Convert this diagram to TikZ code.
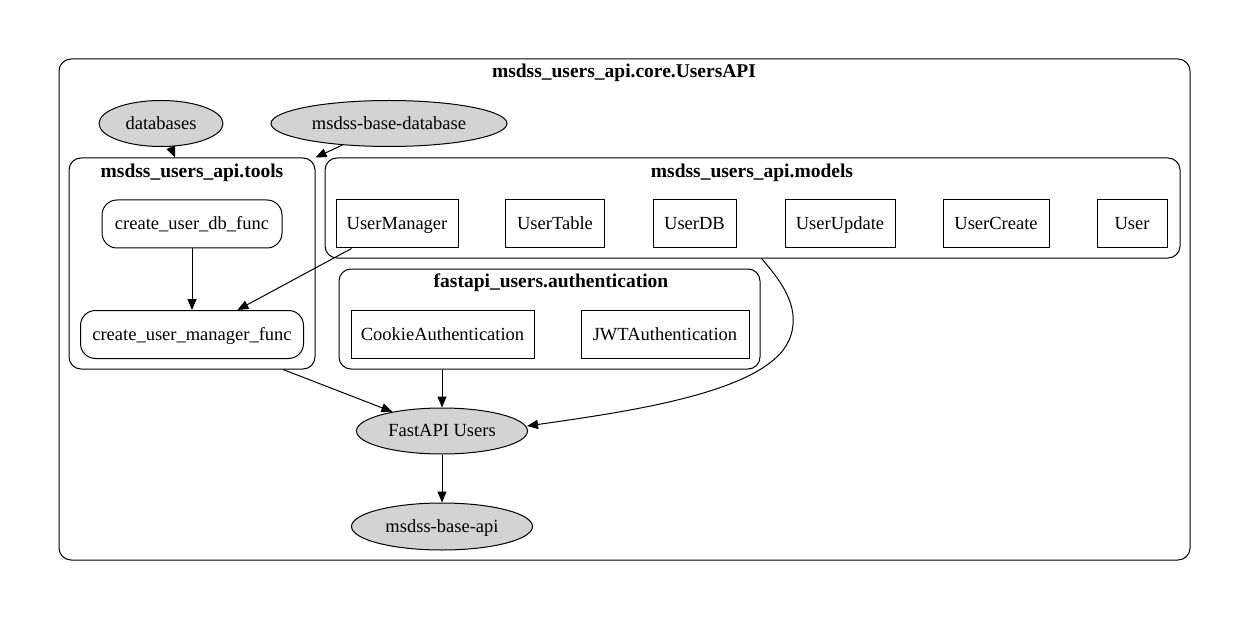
\documentclass[tikz,border=0pt]{standalone}
\usepackage{fontspec}
\setmainfont{Liberation Serif}
\usetikzlibrary{shapes.geometric,arrows.meta,calc}
\definecolor{nodegray}{HTML}{D3D3D3}
\begin{document}
\begin{tikzpicture}[x=1pt,y=-1pt,
  every node/.style={font=\rmfamily\fontsize{18.5}{20}\selectfont, inner sep=0pt,
    text height=14.5pt, text depth=3pt},
  line width=1pt,
  cluster/.style={draw, rounded corners=12pt},
  ctitle/.style={font=\rmfamily\fontsize{19.5}{21}\selectfont\bfseries},
  pkg/.style={draw, ellipse, fill=nodegray},
  func/.style={draw, rounded corners=15pt, minimum height=48},
  cls/.style={draw, minimum height=48},
  arr/.style={-{Triangle[length=11pt,width=9pt]}}
]
\useasboundingbox (0,0) rectangle (1249,620);

% clusters
\node[cluster, minimum width=1131, minimum height=501] (core) at (624.5,309.5) {};
\node[ctitle] (coretitle) at (624,72) {msdss\_users\_api.core.UsersAPI};

\node[cluster, minimum width=246, minimum height=211] (tools) at (192,263.5) {};
\node[ctitle] (toolstitle) at (192,172) {msdss\_users\_api.tools};

\node[cluster, minimum width=855, minimum height=100] (models) at (752.5,208) {};
\node[ctitle] (modelstitle) at (752,172) {msdss\_users\_api.models};

\node[cluster, minimum width=421, minimum height=100] (auth) at (549.5,319) {};
\node[ctitle] (authtitle) at (551,282) {fastapi\_users.authentication};

% external packages
\node[pkg, minimum width=124, minimum height=46] (databases) at (161,123.5) {databases};
\node[pkg, minimum width=236, minimum height=46] (basedb) at (389,123.5) {msdss-base-database};
\node[pkg, minimum width=171, minimum height=46] (fast) at (442,431) {FastAPI Users};
\node[pkg, minimum width=181, minimum height=47] (baseapi) at (442,526.5) {msdss-base-api};

% tools
\node[func, minimum width=180] (cudb) at (192,224) {create\_user\_db\_func};
\node[func, minimum width=223] (cum) at (192,334.5) {create\_user\_manager\_func};

% models
\node[cls, minimum width=122] (um) at (397,224) {UserManager};
\node[cls, minimum width=99] (ut) at (555,224) {UserTable};
\node[cls, minimum width=83] (udb) at (694.5,224) {UserDB};
\node[cls, minimum width=110] (uu) at (840,224) {UserUpdate};
\node[cls, minimum width=106] (uc) at (996,224) {UserCreate};
\node[cls, minimum width=70] (user) at (1132,224) {User};

% authentication
\node[cls, minimum width=183] (cookie) at (442.5,334.5) {CookieAuthentication};
\node[cls, minimum width=168] (jwt) at (665,334.5) {JWTAuthentication};

% connectors
\draw[arr] (databases) -- ($(tools.north)+(-17,0)$);
\draw[arr] (basedb) -- (tools.north east);
\draw[arr] (cudb) -- (cum);
\draw[arr] (um) -- (cum);
\draw[arr] ($(tools.south)+(91,0)$) -- (fast);
\draw[arr] (auth.south -| fast) -- (fast);
\draw[arr] ($(models.south)+(9,0)$) .. controls (780,280) and (800,305) .. (791,335)
  .. controls (775,390) and (640,410) .. ($(fast.east)+(-1,-5)$);
\draw[arr] (fast) -- (baseapi);
\end{tikzpicture}
\end{document}
